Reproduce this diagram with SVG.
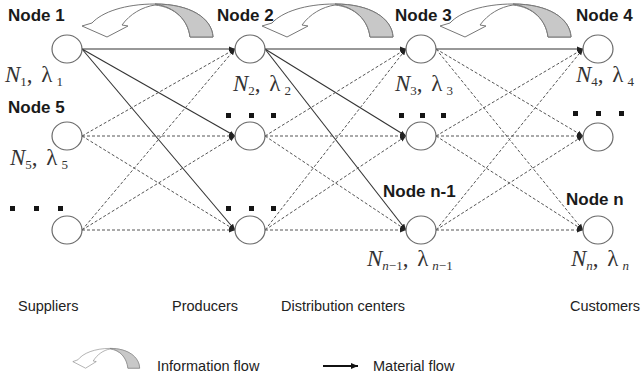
<svg xmlns="http://www.w3.org/2000/svg" xmlns:xlink="http://www.w3.org/1999/xlink" width="641" height="378" viewBox="0 0 641 378">
<style>
.node{fill:#fff;stroke:#6a6a6a;stroke-width:1.2}
.lbl{font-family:"Liberation Sans",Arial,sans-serif;font-weight:bold;font-size:17px;fill:#1a1a1a}
.cap{font-family:"Liberation Sans",Arial,sans-serif;font-size:14.5px;fill:#222}
.m{font-family:"Liberation Serif","Times New Roman",serif;font-size:23px;fill:#333}
.i{font-style:italic}
.s{font-size:13px}
.solid{stroke:#333;stroke-width:1.1;fill:none;marker-end:url(#ah)}
.dash{stroke:#555;stroke-width:1;stroke-dasharray:3 2;fill:none;marker-end:url(#ah)}
.dot{fill:#151515}
.info{fill:#fff;stroke:#777;stroke-width:1}
.infog{fill:#c8c8c8;stroke:#777;stroke-width:1}
</style>
<defs>
<marker id="ah" markerUnits="userSpaceOnUse" markerWidth="7" markerHeight="6" refX="6" refY="3" orient="auto"><path d="M0,0.5 L6,3 L0,5.5 Z" fill="#222"/></marker>
<marker id="ah2" markerUnits="userSpaceOnUse" markerWidth="8" markerHeight="7" refX="7" refY="3.5" orient="auto"><path d="M0,0.5 L7,3.5 L0,6.5 Z" fill="#111"/></marker>
<g id="infoArrow">
<path class="info" d="M213,37 C212,18 190,4 155,4 C125,4 102,12 92,23 L82,26 L107,37 L128,26 L122,25 C130,14 142,7 155,5 C175,7 188,20 190,37 Z"/>
<path class="infog" d="M213,37 C212,18 190,4 155,4 C175,7 188,20 190,37 Z"/>
</g>
</defs>
<rect width="641" height="378" fill="#fff"/>
<g id="info-flows">
<use xlink:href="#infoArrow"/>
<use xlink:href="#infoArrow" transform="translate(180,0)"/>
<use xlink:href="#infoArrow" transform="translate(358,0)"/>
</g>
<g id="connectors">
<path class="solid" d="M82,49 L235,49"/>
<path class="solid" d="M82,49 L235,136"/>
<path class="solid" d="M82,49 L235,230"/>
<path class="dash" d="M82,136 L235,49"/>
<path class="dash" d="M82,136 L235,136"/>
<path class="dash" d="M82,136 L235,230"/>
<path class="dash" d="M82,230 L235,49"/>
<path class="dash" d="M82,230 L235,136"/>
<path class="dash" d="M82,230 L235,230"/>
<path class="solid" d="M265,49 L406,49"/>
<path class="solid" d="M265,49 L406,136"/>
<path class="solid" d="M265,49 L406,230"/>
<path class="dash" d="M265,136 L406,49"/>
<path class="dash" d="M265,136 L406,136"/>
<path class="dash" d="M265,136 L406,230"/>
<path class="dash" d="M265,230 L406,49"/>
<path class="dash" d="M265,230 L406,136"/>
<path class="dash" d="M265,230 L406,230"/>
<path class="solid" d="M436,49 L583,49"/>
<path class="dash" d="M436,49 L583,136"/>
<path class="dash" d="M436,49 L583,230"/>
<path class="dash" d="M436,136 L583,49"/>
<path class="dash" d="M436,136 L583,136"/>
<path class="dash" d="M436,136 L583,230"/>
<path class="dash" d="M436,230 L583,49"/>
<path class="dash" d="M436,230 L583,136"/>
<path class="dash" d="M436,230 L583,230"/>
</g>
<g id="node1"><ellipse class="node" cx="67" cy="49" rx="15" ry="14"/><text class="lbl" x="8" y="21">Node 1</text>
<text class="m" x="5" y="82"><tspan class="i">N</tspan><tspan class="s" dy="4">1</tspan><tspan dy="-4">, </tspan><tspan dx="3">λ</tspan><tspan class="s" dx="4" dy="4">1</tspan></text></g>
<g id="node5"><ellipse class="node" cx="67" cy="136" rx="15" ry="14"/><text class="lbl" x="8" y="113">Node 5</text>
<text class="m" x="10" y="165"><tspan class="i">N</tspan><tspan class="s" dy="4">5</tspan><tspan dy="-4">, </tspan><tspan dx="3">λ</tspan><tspan class="s" dx="4" dy="4">5</tspan></text></g>
<g id="supplier-n"><ellipse class="node" cx="67" cy="230" rx="15" ry="14"/>
<rect class="dot" x="10" y="206" width="5" height="5"/><rect class="dot" x="34" y="206" width="5" height="5"/><rect class="dot" x="58" y="206" width="5" height="5"/></g>
<g id="node2"><ellipse class="node" cx="250" cy="49" rx="15" ry="14"/><text class="lbl" x="217" y="21">Node 2</text>
<text class="m" x="233" y="91"><tspan class="i">N</tspan><tspan class="s" dy="4">2</tspan><tspan dy="-4">, </tspan><tspan dx="3">λ</tspan><tspan class="s" dx="4" dy="4">2</tspan></text></g>
<g id="producer-2"><ellipse class="node" cx="250" cy="136" rx="15" ry="14"/>
<rect class="dot" x="226" y="113" width="5" height="5"/><rect class="dot" x="249" y="113" width="5" height="5"/><rect class="dot" x="271" y="113" width="5" height="5"/></g>
<g id="producer-n"><ellipse class="node" cx="250" cy="230" rx="15" ry="14"/>
<rect class="dot" x="226" y="206" width="5" height="5"/><rect class="dot" x="249" y="206" width="5" height="5"/><rect class="dot" x="271" y="206" width="5" height="5"/></g>
<g id="node3"><ellipse class="node" cx="421" cy="49" rx="15" ry="14"/><text class="lbl" x="395" y="21">Node 3</text>
<text class="m" x="395" y="91"><tspan class="i">N</tspan><tspan class="s" dy="4">3</tspan><tspan dy="-4">, </tspan><tspan dx="3">λ</tspan><tspan class="s" dx="4" dy="4">3</tspan></text></g>
<g id="dc-2"><ellipse class="node" cx="421" cy="136" rx="15" ry="14"/>
<rect class="dot" x="399" y="113" width="5" height="5"/><rect class="dot" x="420" y="113" width="5" height="5"/><rect class="dot" x="441" y="113" width="5" height="5"/></g>
<g id="node-n-1"><ellipse class="node" cx="421" cy="230" rx="15" ry="14"/><text class="lbl" x="383" y="197">Node n-1</text>
<text class="m" x="367" y="266"><tspan class="i">N</tspan><tspan class="s" dy="4"><tspan class="i">n</tspan>−1</tspan><tspan dy="-4">, </tspan><tspan dx="3">λ</tspan><tspan class="s" dx="4" dy="4"><tspan class="i">n</tspan>−1</tspan></text></g>
<g id="node4"><ellipse class="node" cx="598" cy="49" rx="15" ry="14"/><text class="lbl" x="576" y="21">Node 4</text>
<text class="m" x="576" y="82"><tspan class="i">N</tspan><tspan class="s" dy="4">4</tspan><tspan dy="-4">, </tspan><tspan dx="3">λ</tspan><tspan class="s" dx="4" dy="4">4</tspan></text></g>
<g id="customer-2"><ellipse class="node" cx="598" cy="137" rx="15" ry="14"/>
<rect class="dot" x="573" y="111" width="5" height="5"/><rect class="dot" x="596" y="111" width="5" height="5"/><rect class="dot" x="619" y="111" width="5" height="5"/></g>
<g id="node-n"><ellipse class="node" cx="598" cy="230" rx="15" ry="14"/><text class="lbl" x="566" y="205">Node n</text>
<text class="m" x="571" y="266"><tspan class="i">N</tspan><tspan class="s i" dy="4">n</tspan><tspan dy="-4">, </tspan><tspan dx="3">λ</tspan><tspan class="s i" dx="4" dy="4">n</tspan></text></g>
<g id="stage-labels">
<text class="cap" x="18" y="311">Suppliers</text>
<text class="cap" x="172" y="311">Producers</text>
<text class="cap" x="281" y="311">Distribution centers</text>
<text class="cap" x="570" y="311">Customers</text>
</g>
<g id="legend">
<use xlink:href="#infoArrow" transform="translate(31,346) scale(0.51,0.6)"/>
<text class="cap" x="157" y="371">Information flow</text>
<path d="M323,366 L358,366" stroke="#111" stroke-width="2" fill="none" marker-end="url(#ah2)"/>
<text class="cap" x="373" y="371">Material flow</text>
</g>
</svg>
